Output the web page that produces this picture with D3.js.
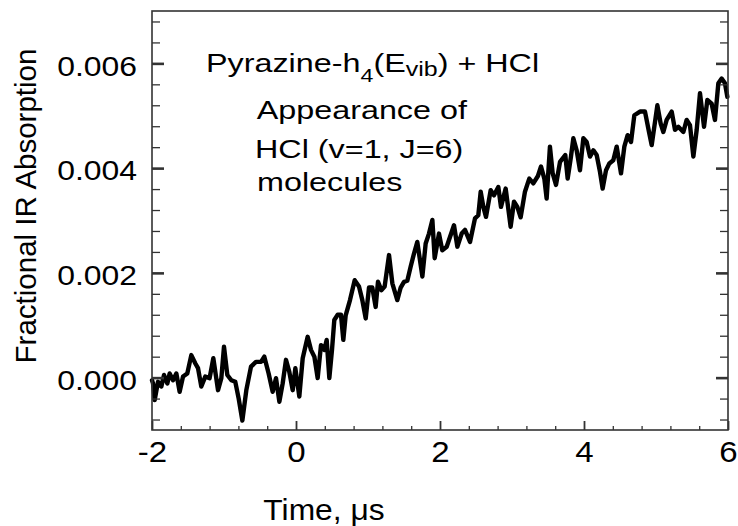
<!DOCTYPE html>
<html>
<head>
<meta charset="utf-8">
<script src="https://cdn.jsdelivr.net/npm/d3@7"></script>
<style>
  html, body { margin: 0; padding: 0; background: #fff; }
  svg { display: block; }
  text { font-family: "Liberation Sans", Arial, Helvetica, sans-serif; fill: #000; }
</style>
</head>
<body>
<svg id="chart" width="738" height="526"></svg>
<script>
// Time axis (microseconds) of the transient absorption trace
const timeUs = [
  -2.00, -1.986, -1.963, -1.917, -1.87, -1.833, -1.787, -1.755, -1.708, -1.662,
  -1.616, -1.569, -1.51, -1.454, -1.398, -1.361, -1.315, -1.26, -1.2, -1.148,
  -1.083, -1.037, -1.0, -0.954, -0.898, -0.843, -0.796, -0.745, -0.69, -0.625,
  -0.556, -0.486, -0.44, -0.38, -0.324, -0.278, -0.231, -0.185, -0.139, -0.093,
  -0.046, -0.009, 0.046, 0.093, 0.162, 0.208, 0.255, 0.301, 0.347, 0.394,
  0.426, 0.463, 0.5, 0.532, 0.579, 0.625, 0.657, 0.69, 0.75, 0.815,
  0.875, 0.921, 0.968, 1.014, 1.06, 1.106, 1.139, 1.185, 1.231, 1.292,
  1.338, 1.407, 1.454, 1.5, 1.546, 1.593, 1.639, 1.685, 1.755, 1.801,
  1.847, 1.894, 1.926, 1.986, 2.032, 2.093, 2.194, 2.241, 2.301, 2.347,
  2.417, 2.486, 2.532, 2.565, 2.602, 2.639, 2.704, 2.75, 2.81, 2.847,
  2.912, 2.981, 3.028, 3.074, 3.12, 3.18, 3.24, 3.296, 3.36, 3.403,
  3.449, 3.481, 3.527, 3.565, 3.611, 3.667, 3.74, 3.773, 3.819, 3.852,
  3.898, 3.944, 3.991, 4.037, 4.083, 4.13, 4.176, 4.222, 4.259, 4.306,
  4.352, 4.407, 4.454, 4.514, 4.56, 4.606, 4.653, 4.699, 4.778, 4.847,
  4.903, 4.94, 4.986, 5.019, 5.065, 5.102, 5.148, 5.218, 5.264, 5.31,
  5.38, 5.426, 5.472, 5.519, 5.565, 5.611, 5.667, 5.713, 5.773, 5.819,
  5.866, 5.912, 5.958, 5.991
];

// Fractional IR absorption of HCl (v=1, J=6), in units of 1e-3
const absorptionMilli = [
  -0.05, -0.11, -0.43, -0.08, -0.17, 0.05, -0.11, 0.08, -0.05, 0.08,
  -0.27, 0.02, 0.08, 0.43, 0.27, 0.18, -0.17, 0.02, -0.01, 0.37,
  -0.24, -0.01, 0.59, 0.05, -0.05, -0.08, -0.40, -0.82, -0.24, 0.21,
  0.30, 0.30, 0.40, 0.08, -0.27, -0.01, -0.46, -0.11, 0.34, 0.11,
  -0.24, 0.18, -0.36, 0.37, 0.78, 0.53, 0.40, -0.01, 0.62, 0.53,
  0.72, -0.01, 0.53, 1.10, 1.20, 1.20, 0.72, 1.19, 1.48, 1.86,
  1.74, 1.48, 1.13, 1.72, 1.72, 1.35, 1.83, 1.67, 1.74, 2.34,
  1.80, 1.48, 1.72, 1.83, 1.85, 2.12, 2.37, 2.59, 1.93, 2.56,
  2.75, 3.01, 2.28, 2.75, 2.43, 2.50, 2.91, 2.50, 2.75, 2.82,
  2.59, 3.04, 3.10, 3.55, 3.26, 3.07, 3.58, 3.48, 3.64, 3.26,
  3.61, 2.88, 3.36, 3.26, 3.06, 3.55, 3.80, 3.71, 3.85, 4.03,
  3.80, 3.42, 4.41, 3.90, 3.68, 4.12, 4.25, 3.80, 4.22, 4.57,
  4.34, 3.96, 4.57, 4.50, 4.22, 4.34, 4.25, 3.93, 3.61, 3.96,
  4.09, 4.15, 4.41, 3.90, 4.41, 4.63, 4.50, 5.01, 5.08, 5.08,
  4.69, 4.44, 4.88, 5.20, 4.85, 4.69, 4.92, 5.08, 4.73, 4.79,
  4.69, 4.92, 4.82, 4.22, 4.73, 5.43, 4.79, 5.30, 5.23, 4.92,
  5.62, 5.71, 5.62, 5.36
];

// Axis ticks
const xMajorTicks = [-2, 0, 2, 4, 6];
const xMinorTicks = [-1.6, -1.2, -0.8, -0.4, 0.4, 0.8, 1.2, 1.6, 2.4, 2.8, 3.2, 3.6, 4.4, 4.8, 5.2, 5.6];
const yMajorTicks = [0, 0.002, 0.004, 0.006];
const yMinorTicks = [-0.0008, -0.0004, 0.0004, 0.0008, 0.0012, 0.0016, 0.0024, 0.0028, 0.0032, 0.0036,
                     0.0044, 0.0048, 0.0052, 0.0056, 0.0064, 0.0068];

const series = timeUs.map((t, i) => ({ t, a: absorptionMilli[i] * 1e-3 }));

const svg = d3.select("#chart");
const plotLeft = 152, plotRight = 728, plotTop = 11, plotBottom = 430;

const x = d3.scaleLinear().domain([-2, 6]).range([plotLeft, plotRight]);
const y = d3.scaleLinear().domain([-0.001, 0.007]).range([plotBottom, plotTop]);

const axisColor = "#333";

// Trace
const line = d3.line().x(d => x(d.t)).y(d => y(d.a));
svg.append("path")
  .datum(series)
  .attr("d", line)
  .attr("fill", "none")
  .attr("stroke", "#000")
  .attr("stroke-width", 4.4)
  .attr("stroke-linejoin", "round")
  .attr("stroke-linecap", "round");

// Frame
svg.append("rect")
  .attr("x", plotLeft).attr("y", plotTop)
  .attr("width", plotRight - plotLeft).attr("height", plotBottom - plotTop)
  .attr("fill", "none").attr("stroke", axisColor).attr("stroke-width", 1.6);

function styleAxis(g, width) {
  g.select(".domain").remove();
  g.selectAll(".tick line").attr("stroke", axisColor).attr("stroke-width", width);
}

// Bottom axis: inward ticks with labels
svg.append("g")
  .attr("transform", `translate(0,${plotBottom})`)
  .call(d3.axisBottom(x).tickValues(xMajorTicks).tickSize(-9).tickFormat(d => String(d)))
  .call(g => styleAxis(g, 1.8))
  .call(g => g.selectAll("text")
    .attr("x", null).attr("y", null).attr("dy", null)
    .attr("transform", "translate(0,32) scale(1.14,1)")
    .attr("font-size", 29).attr("fill", "#000").style("font-family", null));

svg.append("g")
  .attr("transform", `translate(0,${plotBottom})`)
  .call(d3.axisBottom(x).tickValues(xMinorTicks).tickSize(-4).tickFormat(""))
  .call(g => styleAxis(g, 1.3));

// Left axis: inward ticks with labels
svg.append("g")
  .attr("transform", `translate(${plotLeft},0)`)
  .call(d3.axisLeft(y).tickValues(yMajorTicks).tickSize(-12).tickFormat(d3.format(".3f")))
  .call(g => styleAxis(g, 2.6))
  .call(g => g.selectAll("text")
    .attr("x", null).attr("dy", "0.41em")
    .attr("transform", "translate(-15,0) scale(1.12,1)")
    .attr("font-size", 28.5).attr("fill", "#000").style("font-family", null));

svg.append("g")
  .attr("transform", `translate(${plotLeft},0)`)
  .call(d3.axisLeft(y).tickValues(yMinorTicks).tickSize(-8).tickFormat(""))
  .call(g => styleAxis(g, 1.3));

// Right axis: inward ticks only
svg.append("g")
  .attr("transform", `translate(${plotRight},0)`)
  .call(d3.axisRight(y).tickValues(yMajorTicks).tickSize(-12).tickFormat(""))
  .call(g => styleAxis(g, 2.6));

svg.append("g")
  .attr("transform", `translate(${plotRight},0)`)
  .call(d3.axisRight(y).tickValues(yMinorTicks).tickSize(-8).tickFormat(""))
  .call(g => styleAxis(g, 1.3));

// Axis titles
svg.append("text")
  .attr("transform", "translate(324,520) scale(1.06,1)")
  .attr("text-anchor", "middle")
  .attr("font-size", 30)
  .text("Time, μs");

svg.append("text")
  .attr("transform", "translate(36,206) rotate(-90)")
  .attr("text-anchor", "middle")
  .attr("font-size", 29.5)
  .text("Fractional IR Absorption");

// Annotation
const title = svg.append("text")
  .attr("transform", "translate(206,72) scale(1.22,1)")
  .attr("font-size", 26.5);
title.append("tspan").text("Pyrazine-h");
title.append("tspan").attr("font-size", 19).attr("dy", 10).text("4");
title.append("tspan").attr("dy", -10).text("(E");
title.append("tspan").attr("font-size", 20.5).attr("dy", 4).text("vib");
title.append("tspan").attr("dy", -4).text(") + HCl");

const noteLines = ["Appearance of", "HCl (v=1, J=6)", "molecules"];
const noteX = [256.7, 255, 257];
const noteY = [119, 158, 191];
svg.selectAll("text.note")
  .data(noteLines)
  .join("text")
  .attr("class", "note")
  .attr("transform", (d, i) => `translate(${noteX[i]},${noteY[i]}) scale(1.22,1)`)
  .attr("font-size", 26.5)
  .text(d => d);
</script>
</body>
</html>
